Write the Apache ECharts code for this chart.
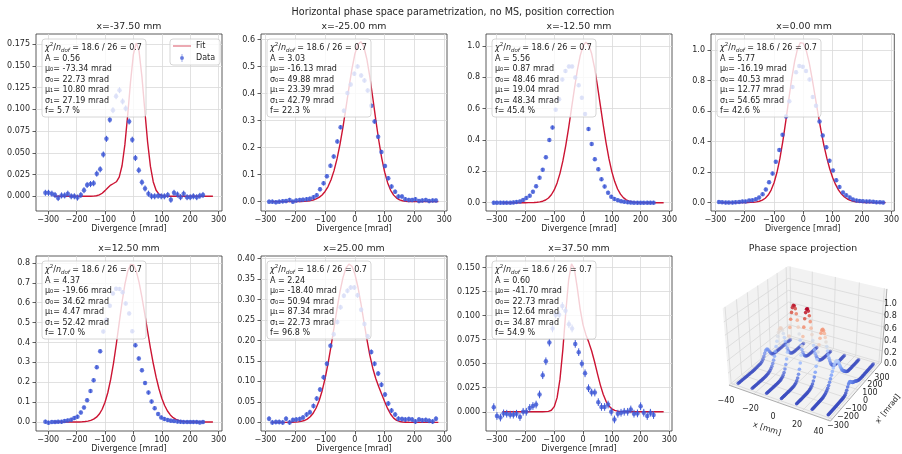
<!DOCTYPE html>
<html><head><meta charset="utf-8">
<script src="https://cdn.jsdelivr.net/npm/echarts@6/dist/echarts.min.js"></script>
<style>html,body{margin:0;padding:0;background:#fff}#c{width:902px;height:454px}</style>
</head><body><div id="c"></div>
<script>
// ================= DATA =================
const suptitle = 'Horizontal phase space parametrization, no MS, position correction';
const positionLabels = ['-37.50', '-25.00', '-12.50', '0.00', '12.50', '25.00', '37.50'];
const positionsMM = [-37.5, -25, -12.5, 0, 12.5, 25, 37.5];

// bin centres (divergence, mrad)
const binsA = [-310,-299,-287,-276,-265,-253,-242,-231,-219,-208,-197,-185,-174,-163,-151,-140,-129,-117,-106,-95,-83,-72,-61,-49,-38,-27,-15,-4,7,19,30,41,53,64,75,87,98,109,121,132,143,155,166,177,189,200,211,223,234,245];
const binsB = [-288,-277,-265,-254,-242,-231,-219,-208,-197,-185,-174,-162,-151,-139,-128,-117,-105,-94,-82,-71,-59,-48,-37,-25,-14,-2,9,21,32,43,55,66,78,89,101,112,123,135,146,158,169,181,192,203,215,226,238,249,261,272];

const data1 = [0.004,0.004,0.003,0.0015,-0.002,0.001,0.001,0.003,0,0,-0.0015,0.0015,0.007,0.013,0.014,0.015,0.026,0.031,0.048,0.066,0.088,0.099,0.115,0.122,0.109,0.101,0.086,0.065,0.044,0.030,0.016,0.009,0.003,0,0,0.0005,0,0,0.0015,-0.004,0.004,0.002,-0.001,0.003,-0.001,-0.001,0,-0.001,0.0005,0.0015];
const data2 = [0,0,-0.002,0,0.001,0.002,0.006,0,0.004,0.006,0.007,0.009,0.011,0.016,0.024,0.046,0.068,0.094,0.133,0.167,0.223,0.276,0.337,0.402,0.434,0.474,0.501,0.467,0.449,0.412,0.355,0.297,0.240,0.184,0.132,0.087,0.056,0.037,0.019,0.019,0.009,0.006,0.006,0.009,0.002,0.004,0.006,0.002,0.004,0.004];
const data3 = [0,0,0,0,0,0,0.002,0.004,0.008,0.017,0.03,0.045,0.07,0.105,0.16,0.21,0.29,0.40,0.48,0.594,0.66,0.786,0.84,0.87,0.87,0.80,0.75,0.67,0.566,0.47,0.374,0.278,0.214,0.15,0.103,0.064,0.038,0.024,0.016,0.01,0.006,0.003,0.001,0,-0.001,-0.001,-0.001,0,0,0];
const data4 = [0.004,0.002,0,0,0,0.002,0.004,0.007,0.007,0.013,0.015,0.022,0.033,0.055,0.086,0.134,0.19,0.268,0.345,0.444,0.565,0.664,0.758,0.855,0.895,0.89,0.862,0.807,0.692,0.635,0.532,0.44,0.363,0.275,0.211,0.147,0.103,0.066,0.048,0.033,0.02,0.013,0.011,0.009,0.007,0.007,0.005,0.002,0.002,0];
const data5 = [0.002,-0.003,0,0,0.001,0.001,0.005,0.008,0.012,0.02,0.027,0.048,0.073,0.11,0.156,0.21,0.276,0.356,0.455,0.515,0.585,0.647,0.67,0.669,0.653,0.596,0.546,0.457,0.386,0.32,0.26,0.196,0.148,0.103,0.07,0.04,0.023,0.015,0.01,0.007,0.005,0.003,0.001,0,0,0,0,0,-0.002,0];
const data6 = [0.009,0,0.001,0.001,0,0.009,0,0.006,0.007,0.008,0.012,0.019,0.025,0.04,0.058,0.08,0.11,0.143,0.187,0.215,0.245,0.281,0.309,0.321,0.329,0.329,0.31,0.275,0.24,0.21,0.172,0.143,0.119,0.092,0.068,0.046,0.029,0.019,0.009,0.008,0.007,0.008,0.007,0.002,0.007,0.005,0.006,0.004,0.002,0.009];
const data7 = [0.0048,-0.0044,-0.006,-0.0017,-0.002,-0.003,-0.003,-0.002,-0.0055,0,0,0.004,0.006,0.0075,0.018,0.038,0.0525,0.072,0.0866,0.101,0.101,0.11,0.105,0.091,0.0866,0.0706,0.062,0.05,0.04,0.0245,0.02,0.02,0.01,0.005,0.005,0.0075,0,-0.008,-0.002,-0.001,0,0,0.0024,-0.002,-0.0017,0.0058,-0.001,-0.0044,-0.001,-0.0034];
const dataErr = [0.0035, 0.008, 0.012, 0.012, 0.01, 0.006, 0.004];

// fit curves sampled on fitX
const fitX = [-280,-270,-260,-250,-240,-230,-220,-210,-200,-190,-180,-170,-160,-150,-140,-130,-120,-110,-100,-90,-80,-70,-60,-50,-40,-30,-20,-10,0,10,20,30,40,50,60,70,80,90,100,110,120,130,140,150,160,170,180,190,200,210,220,230,240,250,260,270,280];
const fit1 = [0,0,0,0,0,0,0,0,0,0,0,0,0,0,0.0002,0.0006,0.0016,0.0035,0.0065,0.0099,0.0129,0.0147,0.0167,0.0220,0.0351,0.0593,0.0937,0.1319,0.1631,0.1763,0.1666,0.1375,0.0991,0.0624,0.0343,0.0165,0.0069,0.0025,0.0008,0.0002,0,0,0,0,0,0,0,0,0,0,0,0,0,0,0,0,0];
const fit2 = [0,0,0,0,0,0,0,0.0001,0.0001,0.0003,0.0006,0.0011,0.0020,0.0035,0.0060,0.0099,0.0159,0.0248,0.0377,0.0560,0.0811,0.1148,0.1583,0.2125,0.2764,0.3476,0.4213,0.4905,0.5469,0.5828,0.5926,0.5738,0.5285,0.4628,0.3848,0.3037,0.2274,0.1615,0.1088,0.0694,0.0420,0.0241,0.0131,0.0068,0.0033,0.0015,0.0007,0.0003,0.0001,0,0,0,0,0,0,0,0];
const fit3 = [0,0,0,0,0,0,0,0,0.0001,0.0003,0.0006,0.0012,0.0025,0.0050,0.0095,0.0173,0.0302,0.0507,0.0817,0.1263,0.1874,0.2668,0.3646,0.4782,0.6019,0.7269,0.8425,0.9373,1.0005,1.0249,1.0075,0.9504,0.8604,0.7474,0.6228,0.4981,0.3821,0.2812,0.1987,0.1346,0.0874,0.0545,0.0326,0.0187,0.0103,0.0054,0.0027,0.0013,0.0006,0.0003,0.0001,0,0,0,0,0,0];
const fit4 = [0,0,0,0,0,0,0.0001,0.0001,0.0003,0.0006,0.0013,0.0025,0.0047,0.0089,0.0163,0.0288,0.0495,0.0819,0.1304,0.1988,0.2898,0.4029,0.5338,0.6734,0.8087,0.9247,1.0080,1.0489,1.0440,0.9966,0.9152,0.8113,0.6967,0.5815,0.4729,0.3755,0.2912,0.2205,0.1630,0.1173,0.0823,0.0560,0.0370,0.0236,0.0147,0.0088,0.0051,0.0029,0.0016,0.0008,0.0004,0.0002,0.0001,0,0,0,0];
const fit5 = [0,0,0,0,0,0,0.0001,0.0001,0.0003,0.0006,0.0013,0.0025,0.0046,0.0083,0.0146,0.0246,0.0404,0.0644,0.0995,0.1485,0.2142,0.2967,0.3937,0.4989,0.6024,0.6926,0.7583,0.7922,0.7918,0.7598,0.7024,0.6277,0.5435,0.4566,0.3723,0.2944,0.2256,0.1673,0.1199,0.0830,0.0555,0.0357,0.0222,0.0133,0.0077,0.0043,0.0023,0.0012,0.0006,0.0003,0.0001,0.0001,0,0,0,0,0];
const fit6 = [0,0,0,0,0,0.0001,0.0002,0.0003,0.0007,0.0013,0.0025,0.0046,0.0081,0.0137,0.0224,0.0351,0.0529,0.0767,0.1071,0.1439,0.1860,0.2314,0.2769,0.3189,0.3533,0.3766,0.3863,0.3813,0.3621,0.3310,0.2913,0.2473,0.2036,0.1643,0.1322,0.1071,0.0870,0.0686,0.0505,0.0335,0.0199,0.0105,0.0050,0.0023,0.0010,0.0005,0.0002,0.0001,0,0,0,0,0,0,0,0,0];
const fit7 = [0,0,0,0,0,0,0,0,0,0,0,0,0,0,0,0.0001,0.0004,0.0016,0.0053,0.0147,0.0339,0.0649,0.1032,0.1371,0.1538,0.1487,0.1289,0.1068,0.0904,0.0802,0.0722,0.0632,0.0520,0.0397,0.0280,0.0182,0.0109,0.0060,0.0031,0.0014,0.0006,0.0002,0.0001,0,0,0,0,0,0,0,0,0,0,0,0,0,0];

// fit parameters shown in the boxes
const chi2Text = '18.6 / 26 = 0.7';
const parA   = ['0.56', '3.03', '5.56', '5.77', '4.37', '2.24', '0.60'];
const parMu0 = ['-73.34', '-16.13', '0.87', '-16.19', '-19.66', '-18.40', '-41.70'];
const parSg0 = ['22.73', '49.88', '48.46', '40.53', '34.62', '50.94', '22.73'];
const parMu1 = ['10.80', '23.39', '19.04', '12.77', '4.47', '87.34', '12.64'];
const parSg1 = ['27.19', '42.79', '48.34', '54.65', '52.42', '22.73', '34.87'];
const parF   = ['5.7', '22.3', '45.4', '42.6', '17.0', '96.8', '54.9'];

// tick labels
const xTicks = [-300, -200, -100, 0, 100, 200, 300];
const yTicks1 = [0, 0.025, 0.05, 0.075, 0.1, 0.125, 0.15, 0.175];
const yTicks2 = [0, 0.1, 0.2, 0.3, 0.4, 0.5, 0.6];
const yTicks3 = [0, 0.2, 0.4, 0.6, 0.8, 1.0];
const yTicks4 = [0, 0.2, 0.4, 0.6, 0.8, 1.0];
const yTicks5 = [0, 0.1, 0.2, 0.3, 0.4, 0.5, 0.6, 0.7, 0.8];
const yTicks6 = [0, 0.05, 0.1, 0.15, 0.2, 0.25, 0.3, 0.35, 0.4];
const yTicks7 = [0, 0.025, 0.05, 0.075, 0.1, 0.125, 0.15];
const yDecimals = [3, 1, 1, 1, 1, 2, 3];
const x3dTicks = [-40, -20, 0, 20, 40];
const y3dTicks = [-300, -200, -100, 0, 100, 200, 300];
const z3dTicks = [0, 0.2, 0.4, 0.6, 0.8, 1.0];

// ================= LAYOUT / STYLE =================
const FONT = 'DejaVu Sans';
const TXT = '#262626';
const FIT_COLOR = '#cc1433';
const DATA_COLOR = '#3d58d6';
const GRID_W = 186, GRID_H = 177;
const gridLeft = [36, 261, 486, 711, 36, 261, 486];
const gridTop = [34, 34, 34, 34, 256, 256, 256];
const xRanges = [[-343, 312], [-315, 309], [-337, 309], [-315, 310], [-343, 312], [-315, 309], [-337, 309]];
const yRanges = [[-0.0169, 0.1865], [-0.0347, 0.621], [-0.053, 1.077], [-0.055, 1.105], [-0.045, 0.835], [-0.021, 0.406], [-0.020, 0.162]];

const bins = [binsA, binsB, binsA, binsB, binsA, binsB, binsA];
const datas = [data1, data2, data3, data4, data5, data6, data7];
const fits = [fit1, fit2, fit3, fit4, fit5, fit6, fit7];
const yTicks = [yTicks1, yTicks2, yTicks3, yTicks4, yTicks5, yTicks6, yTicks7];

const fmtMinus = v => (v < 0 ? '\u2212' + Math.abs(v) : String(v));

const grids = [], xAxes = [], yAxes = [], series = [], graphics = [];

for (let i = 0; i < 7; i++) {
  grids.push({left: gridLeft[i], top: gridTop[i], width: GRID_W, height: GRID_H, show: true,
    borderColor: '#333', borderWidth: 0.8, backgroundColor: 'transparent', containLabel: false});
  xAxes.push({type: 'value', gridIndex: i, min: xRanges[i][0], max: xRanges[i][1],
    axisLine: {show: false, onZero: false},
    axisTick: {show: true, inside: false, length: 3.5, lineStyle: {color: '#333', width: 0.8}, customValues: xTicks},
    axisLabel: {customValues: xTicks, formatter: fmtMinus, fontSize: 8, color: TXT, fontFamily: FONT, margin: 5},
    splitLine: {show: true, lineStyle: {color: '#d9d9d9', width: 0.8}},
    name: 'Divergence [mrad]', nameLocation: 'middle', nameGap: 14,
    nameTextStyle: {fontSize: 8, color: TXT, fontFamily: FONT}});
  const dec = yDecimals[i];
  yAxes.push({type: 'value', gridIndex: i, min: yRanges[i][0], max: yRanges[i][1],
    axisLine: {show: false, onZero: false},
    axisTick: {show: true, inside: false, length: 3.5, lineStyle: {color: '#333', width: 0.8}, customValues: yTicks[i]},
    axisLabel: {customValues: yTicks[i], formatter: v => v.toFixed(dec), fontSize: 8, color: TXT, fontFamily: FONT, margin: 6},
    splitLine: {show: true, lineStyle: {color: '#d9d9d9', width: 0.8}}});

  series.push({type: 'line', name: 'Fit', xAxisIndex: i, yAxisIndex: i, silent: true,
    data: fitX.map((x, k) => [x, fits[i][k]]), showSymbol: false, symbol: 'none',
    lineStyle: {color: FIT_COLOR, width: 1.4}, itemStyle: {color: FIT_COLOR}, z: 2});
  const e = dataErr[i];
  series.push({type: 'custom', name: 'err' + i, xAxisIndex: i, yAxisIndex: i, silent: true,
    data: bins[i].map((x, k) => [x, datas[i][k] - e, datas[i][k] + e]),
    encode: {x: 0, y: [1, 2]},
    renderItem: (params, api) => {
      const a = api.coord([api.value(0), api.value(1)]);
      const b = api.coord([api.value(0), api.value(2)]);
      return {type: 'line', shape: {x1: a[0], y1: a[1], x2: b[0], y2: b[1]}, style: {stroke: DATA_COLOR, lineWidth: 1}};
    }, z: 3});
  series.push({type: 'scatter', name: 'Data', xAxisIndex: i, yAxisIndex: i, silent: true,
    data: bins[i].map((x, k) => [x, datas[i][k]]), symbolSize: 4.5,
    itemStyle: {color: DATA_COLOR}, z: 4});

  // panel title
  graphics.push({type: 'text', x: gridLeft[i] + GRID_W / 2, y: gridTop[i] - 7, z: 60,
    style: {text: 'x=' + positionLabels[i] + ' mm', fontSize: 9.4, fontFamily: FONT, fill: TXT, align: 'center', verticalAlign: 'middle'}});
  // parameter box
  graphics.push({type: 'rect', z: 50, shape: {x: gridLeft[i] + 6, y: gridTop[i] + 5, width: 104, height: 78, r: 3},
    style: {fill: 'rgba(255,255,255,0.8)', stroke: '#cccccc', lineWidth: 0.8}});
  const lines = [
    '{it|\u03c7}{sup|2}{a|/}{it|n}{sub|dof}{a| = ' + chi2Text + '}',
    '{n|A = ' + parA[i] + '}',
    '{n|\u03bc\u2080= ' + parMu0[i] + ' mrad}',
    '{n|\u03c3\u2080= ' + parSg0[i] + ' mrad}',
    '{n|\u03bc\u2081= ' + parMu1[i] + ' mrad}',
    '{n|\u03c3\u2081= ' + parSg1[i] + ' mrad}',
    '{n|f= ' + parF[i] + ' %}'
  ];
  graphics.push({type: 'text', z: 51, x: gridLeft[i] + 9, y: gridTop[i] + 7.7,
    style: {text: lines.join('\n'), fontSize: 8, fontFamily: FONT, fill: '#222', align: 'left', verticalAlign: 'top',
      rich: {
        a: {fontSize: 8, fontFamily: FONT, fill: '#222', lineHeight: 12},
        it: {fontSize: 8, fontFamily: FONT, fill: '#222', fontStyle: 'italic', lineHeight: 12},
        sup: {fontSize: 5.5, fontFamily: FONT, fill: '#222', lineHeight: 7, verticalAlign: 'top'},
        sub: {fontSize: 5.5, fontFamily: FONT, fill: '#222', fontStyle: 'italic', lineHeight: 7, verticalAlign: 'bottom'},
        n: {fontSize: 8, fontFamily: FONT, fill: '#222', lineHeight: 10.4}
      }}});
}

graphics.push({type: 'text', x: 453, y: 12.5, z: 60,
  style: {text: suptitle, fontSize: 9.6, fontFamily: FONT, fill: TXT, align: 'center', verticalAlign: 'middle'}});

// ================= 3D projection panel =================
const P3 = {cx: 807.5, cy: 337.3, s: 57.8, D: 10, xlim: [-42, 42], ylim: [-320, 320], zlim: [0, 1.2]};
const az = -60 * Math.PI / 180, el = 30 * Math.PI / 180;
const W = [Math.cos(el) * Math.cos(az), Math.cos(el) * Math.sin(az), Math.sin(el)];
let U = [-W[1], W[0], 0]; const un = Math.hypot(U[0], U[1]); U = [U[0] / un, U[1] / un, 0];
const V = [W[1] * U[2] - W[2] * U[1], W[2] * U[0] - W[0] * U[2], W[0] * U[1] - W[1] * U[0]];
function projBox(X, Y, Z) {
  const a = U[0] * X + U[1] * Y + U[2] * Z;
  const b = V[0] * X + V[1] * Y + V[2] * Z;
  const d = W[0] * X + W[1] * Y + W[2] * Z;
  const f = P3.D / (P3.D - d);
  return [P3.cx + P3.s * a * f, P3.cy - P3.s * b * f, d];
}
const toX = x => -1 + 2 * (x - P3.xlim[0]) / (P3.xlim[1] - P3.xlim[0]);
const toY = y => -1 + 2 * (y - P3.ylim[0]) / (P3.ylim[1] - P3.ylim[0]);
const toZ = z => -0.75 + 1.5 * (z - P3.zlim[0]) / (P3.zlim[1] - P3.zlim[0]);
const pt = (X, Y, Z) => projBox(X, Y, Z).slice(0, 2);

const PANE = '#f2f2f2', GRIDC = '#d8d8d8';
graphics.push({type: 'polygon', z: 0, shape: {points: [pt(-1, -1, -0.75), pt(1, -1, -0.75), pt(1, 1, -0.75), pt(-1, 1, -0.75)]}, style: {fill: PANE}});
graphics.push({type: 'polygon', z: 0, shape: {points: [pt(-1, -1, -0.75), pt(-1, 1, -0.75), pt(-1, 1, 0.75), pt(-1, -1, 0.75)]}, style: {fill: PANE}});
graphics.push({type: 'polygon', z: 0, shape: {points: [pt(-1, 1, -0.75), pt(1, 1, -0.75), pt(1, 1, 0.75), pt(-1, 1, 0.75)]}, style: {fill: PANE}});
function seg(p, q, color, w) {
  graphics.push({type: 'line', z: 1, shape: {x1: p[0], y1: p[1], x2: q[0], y2: q[1]}, style: {stroke: color, lineWidth: w}});
}
x3dTicks.forEach(x => { const X = toX(x); seg(pt(X, -1, -0.75), pt(X, 1, -0.75), GRIDC, 0.8); seg(pt(X, 1, -0.75), pt(X, 1, 0.75), GRIDC, 0.8); });
y3dTicks.forEach(y => { const Y = toY(y); seg(pt(-1, Y, -0.75), pt(1, Y, -0.75), GRIDC, 0.8); seg(pt(-1, Y, -0.75), pt(-1, Y, 0.75), GRIDC, 0.8); });
z3dTicks.forEach(z => { const Z = toZ(z); seg(pt(-1, -1, Z), pt(-1, 1, Z), GRIDC, 0.8); seg(pt(-1, 1, Z), pt(1, 1, Z), GRIDC, 0.8); });
seg(pt(-1, -1, -0.75), pt(1, -1, -0.75), '#9a9a9a', 0.8);
seg(pt(1, -1, -0.75), pt(1, 1, -0.75), '#9a9a9a', 0.8);
seg(pt(1, 1, -0.75), pt(1, 1, 0.75), '#9a9a9a', 0.8);

// 3D tick labels (layout positions)
const x3dLabelPos = [[726, 401], [750.5, 409], [773, 417.2], [797, 425.2], [818.5, 432.2]];
const y3dLabelPos = [[838, 426], [848, 417], [856, 408.5], [865.5, 401], [870, 393], [875, 385], [882, 377.5]];
x3dTicks.forEach((t, k) => graphics.push({type: 'text', z: 60, x: x3dLabelPos[k][0], y: x3dLabelPos[k][1],
  style: {text: fmtMinus(t), fontSize: 8, fontFamily: FONT, fill: TXT, align: 'center', verticalAlign: 'middle'}}));
y3dTicks.forEach((t, k) => graphics.push({type: 'text', z: 60, x: y3dLabelPos[k][0], y: y3dLabelPos[k][1],
  style: {text: fmtMinus(t), fontSize: 8, fontFamily: FONT, fill: TXT, align: 'center', verticalAlign: 'middle'}}));
z3dTicks.forEach(t => { const p = pt(1, 1, toZ(t)); graphics.push({type: 'text', z: 60, x: 884, y: p[1] + 1.5,
  style: {text: t.toFixed(1), fontSize: 8, fontFamily: FONT, fill: TXT, align: 'left', verticalAlign: 'middle'}}); });
graphics.push({type: 'text', z: 60, x: 767, y: 429, rotation: -0.31,
  style: {text: 'x [mm]', fontSize: 8, fontFamily: FONT, fill: TXT, align: 'center', verticalAlign: 'middle'}});
graphics.push({type: 'text', z: 60, x: 888, y: 409, rotation: 0.9,
  style: {text: "x' [mrad]", fontSize: 7.6, fontFamily: FONT, fill: TXT, align: 'center', verticalAlign: 'middle'}});
graphics.push({type: 'text', z: 60, x: 803, y: 249,
  style: {text: 'Phase space projection', fontSize: 9.4, fontFamily: FONT, fill: TXT, align: 'center', verticalAlign: 'middle'}});

// 3D points: fit model per slice
let pts3 = [];
let zMax = 0;
for (let i = 0; i < 7; i++) {
  fitX.forEach((y, k) => {
    const z = fits[i][k];
    zMax = Math.max(zMax, z);
    const p = projBox(toX(positionsMM[i]), toY(y), toZ(z));
    pts3.push({px: p[0], py: p[1], d: p[2], z: z});
  });
}
pts3.sort((a, b) => a.d - b.d);
const dMin = pts3[0].d, dMax = pts3[pts3.length - 1].d;
grids.push({left: 0, top: 0, width: 902, height: 454, show: false});
xAxes.push({type: 'value', gridIndex: 7, min: 0, max: 902, show: false});
yAxes.push({type: 'value', gridIndex: 7, min: 0, max: 454, inverse: true, show: false});
series.push({type: 'scatter', name: 'proj3d', xAxisIndex: 7, yAxisIndex: 7, silent: true, symbolSize: 3.6, z: 3,
  data: pts3.map(q => ({value: [q.px, q.py, q.z], itemStyle: {opacity: 0.45 + 0.55 * (q.d - dMin) / (dMax - dMin)}}))});

const coolwarm = ['#3b4cc0', '#5977e3', '#7b9ff9', '#9ebeff', '#c0d4f5', '#dddcdc', '#f2cbb7', '#f7ac8e', '#ee8468', '#d65244', '#b40426'];

const chart = echarts.init(document.getElementById('c'), null, {renderer: 'canvas', width: 902, height: 454});
chart.setOption({
  animation: false,
  backgroundColor: '#ffffff',
  grid: grids, xAxis: xAxes, yAxis: yAxes, series: series,
  visualMap: [{type: 'continuous', show: false, seriesIndex: series.length - 1, dimension: 2, min: 0, max: zMax, inRange: {color: coolwarm}}],
  legend: {data: [
      {name: 'Fit', icon: 'path://M0,0H30V2H0Z', itemStyle: {color: '#e0707f'}},
      {name: 'Data', icon: 'path://M4.6,0H5.4V10H4.6Z M7.4,5A2.4,2.4,0,1,1,2.6,5A2.4,2.4,0,1,1,7.4,5Z'}],
    left: 170, top: 39, orient: 'vertical', itemWidth: 18, itemHeight: 8, itemGap: 4, padding: [3, 5, 3, 3],
    selectedMode: false, textStyle: {fontSize: 8, fontFamily: FONT, color: TXT},
    backgroundColor: 'rgba(255,255,255,0.8)', borderColor: '#cccccc', borderWidth: 0.8, borderRadius: 3, z: 10},
  graphic: {elements: graphics}
});
</script></body></html>
